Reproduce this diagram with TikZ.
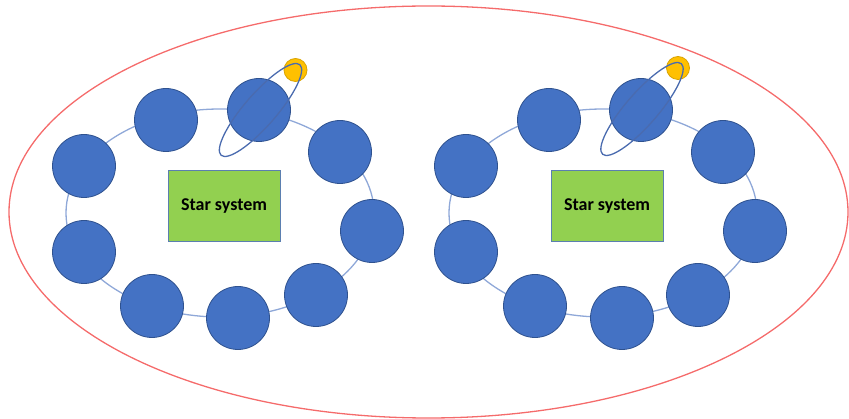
\documentclass[tikz,border=0pt]{standalone}
\usepackage{fontspec}
\setmainfont{Carlito}
\usetikzlibrary{shapes.geometric}
\definecolor{planetblue}{HTML}{4472C4}
\definecolor{planetedge}{HTML}{2F528F}
\definecolor{ringcol}{HTML}{8FA8D8}
\definecolor{orbitcol}{HTML}{4A6BAF}
\definecolor{moonfill}{HTML}{FFC000}
\definecolor{moonedge}{HTML}{D9A300}
\definecolor{boxgreen}{HTML}{92D050}
\definecolor{boxedge}{HTML}{5B7FB0}
\definecolor{outerred}{HTML}{F56B6B}
\tikzset{
  planet/.style={circle, fill=planetblue, draw=planetedge, line width=0.8pt, minimum size=63pt, inner sep=0pt},
  moon/.style={circle, fill=moonfill, draw=moonedge, line width=0.8pt, minimum size=23pt, inner sep=0pt},
  starbox/.style={rectangle, fill=boxgreen, draw=boxedge, line width=0.8pt, minimum width=112pt, minimum height=71pt, inner sep=0pt, font=\bfseries\fontsize{18}{20}\selectfont},
  ring/.style={draw=ringcol, line width=1.3pt},
  orbit/.style={draw=orbitcol, line width=1.3pt},
  outer/.style={draw=outerred, line width=1.3pt}
}
\begin{document}
\begin{tikzpicture}[x=1pt,y=-1pt]
\useasboundingbox (0,0) rectangle (849,419);
% outer boundary
\draw[outer] (428.5,212) ellipse [x radius=419.5, y radius=206];
% rings
\draw[ring] (220,213) ellipse [x radius=154, y radius=104];
\draw[ring] (603,213) ellipse [x radius=154, y radius=104];
% left system
\node[planet] (l1) at (84,166) {};
\node[planet] (l2) at (166,120) {};
\node[planet] (l3) at (259,110) {};
\node[planet] (l4) at (340,152) {};
\node[planet] (l5) at (372,231) {};
\node[planet] (l6) at (84,252) {};
\node[planet] (l7) at (152,306) {};
\node[planet] (l8) at (238,318) {};
\node[planet] (l9) at (316,295) {};
\node[moon] (lm) at (295.5,70) {};
\draw[orbit, rotate around={49:(260.5,110)}] (260.5,110) ellipse [x radius=60, y radius=16];
\node[starbox] (ls) at (224,206) {Star system};
% right system
\node[planet] (r1) at (466,166) {};
\node[planet] (r2) at (549,120) {};
\node[planet] (r3) at (641,110) {};
\node[planet] (r4) at (723,152) {};
\node[planet] (r5) at (755,231) {};
\node[planet] (r6) at (466,252) {};
\node[planet] (r7) at (535,306) {};
\node[planet] (r8) at (622,318) {};
\node[planet] (r9) at (698,295) {};
\node[moon] (rm) at (678,68) {};
\draw[orbit, rotate around={49:(642,109)}] (642,109) ellipse [x radius=60, y radius=16];
\node[starbox] (rs) at (607,206) {Star system};
\end{tikzpicture}
\end{document}
